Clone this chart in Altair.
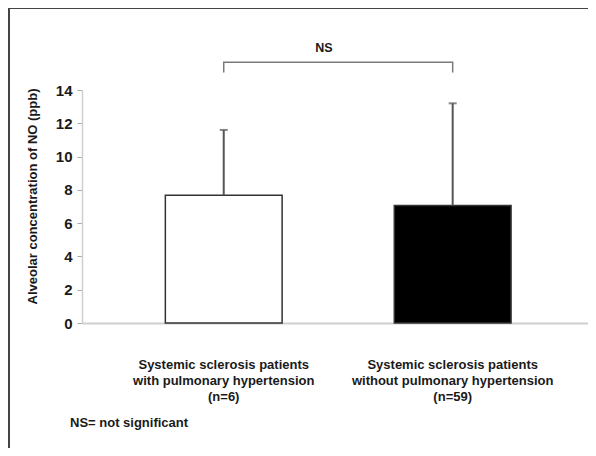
import altair as alt
import pandas as pd

categories = [
    "Systemic sclerosis patients|with pulmonary hypertension|(n=6)",
    "Systemic sclerosis patients|without pulmonary hypertension|(n=59)",
]
means = [7.68, 7.06]
sd_upper = [11.6, 13.2]
bar_fill = ["#ffffff", "#000000"]
y_ticks = [0, 2, 4, 6, 8, 10, 12, 14]

FONT = "Liberation Sans"

df = pd.DataFrame({"cat": categories, "mean": means, "upper": sd_upper, "fill": bar_fill})

# bracket for the NS comparison (in data units of the y scale)
bracket_low, bracket_high, ns_y = 15.05, 15.66, 16.55
br = pd.DataFrame({
    "cat": [categories[0], categories[0], categories[1], categories[1]],
    "y": [bracket_low, bracket_high, bracket_high, bracket_low],
    "o": [0, 1, 2, 3],
})

xscale = alt.Scale(paddingInner=0.49, paddingOuter=0.35, align=0.52)
xaxis = alt.Axis(title=None, ticks=False, domainColor="#cfcfcf", domainWidth=2,
                 labelExpr="split(datum.label, '|')", labelAngle=0, labelLimit=0,
                 labelFont=FONT, labelFontSize=13, labelFontWeight="bold",
                 labelColor="#1a1a1a", labelLineHeight=16, labelPadding=35)
yscale = alt.Scale(domain=[0, 14], nice=False)
yaxis = alt.Axis(values=y_ticks, title="Alveolar concentration of NO (ppb)",
                 grid=False, domainColor="#cfcfcf", domainWidth=1.5,
                 labelOverlap=False,
                 tickColor="#aaaaaa", tickSize=5, labelPadding=5,
                 labelFont=FONT, labelFontSize=15, labelFontWeight="bold",
                 labelColor="#1a1a1a",
                 titleFont=FONT, titleFontSize=13, titleFontWeight="bold",
                 titleColor="#1a1a1a", titleAngle=-90, titleX=-50, titleY=106,
                 titleAlign="center", titleBaseline="middle")

xenc = alt.X("cat:N", sort=categories, scale=xscale, axis=xaxis)


def yenc(field):
    return alt.Y(field, scale=yscale, axis=yaxis)


bars = alt.Chart(df).mark_bar(stroke="#333333", strokeWidth=1.5).encode(
    x=xenc, y=yenc("mean:Q"), fill=alt.Fill("fill:N", scale=None),
)

err = alt.Chart(df).mark_rule(color="#555555", strokeWidth=2).encode(
    x=xenc, y=yenc("mean:Q"), y2="upper:Q"
)
caps = alt.Chart(df).mark_tick(color="#555555", thickness=2, size=8, orient="horizontal").encode(
    x=xenc, y=yenc("upper:Q")
)

bracket = alt.Chart(br).mark_line(color="#7a7a7a", strokeWidth=1.5).encode(
    x=xenc, y=yenc("y:Q"), order="o:Q",
)

ns = alt.Chart(pd.DataFrame({"t": ["NS"], "y": [ns_y]})).mark_text(
    font=FONT, fontSize=12.5, fontWeight="bold", color="#1a1a1a"
).encode(x=alt.value(242), y=yenc("y:Q"), text="t:N")

note = alt.Chart(pd.DataFrame({"t": ["NS= not significant"]})).mark_text(
    font=FONT, fontSize=13, fontWeight="bold", color="#1a1a1a", align="left"
).encode(x=alt.value(-12), y=alt.value(333), text="t:N")

frame_left = alt.Chart(pd.DataFrame({"a": [0]})).mark_rule(color="#444444", strokeWidth=2).encode(
    x=alt.value(-73), y=alt.value(-82), y2=alt.value(360)
)
frame_top = alt.Chart(pd.DataFrame({"a": [0]})).mark_rule(color="#444444", strokeWidth=2).encode(
    x=alt.value(-74), x2=alt.value(510), y=alt.value(-82)
)

chart = alt.layer(bars, err, caps, bracket, ns, note, frame_left, frame_top).properties(
    width=506, height=233,
    autosize=alt.AutoSizeParams(type="none"),
    padding={"left": 74, "top": 82, "right": 0, "bottom": 125},
    background="white",
).configure_view(stroke=None)

chart.save("out.html", embed_options={"renderer": "svg", "actions": False})
